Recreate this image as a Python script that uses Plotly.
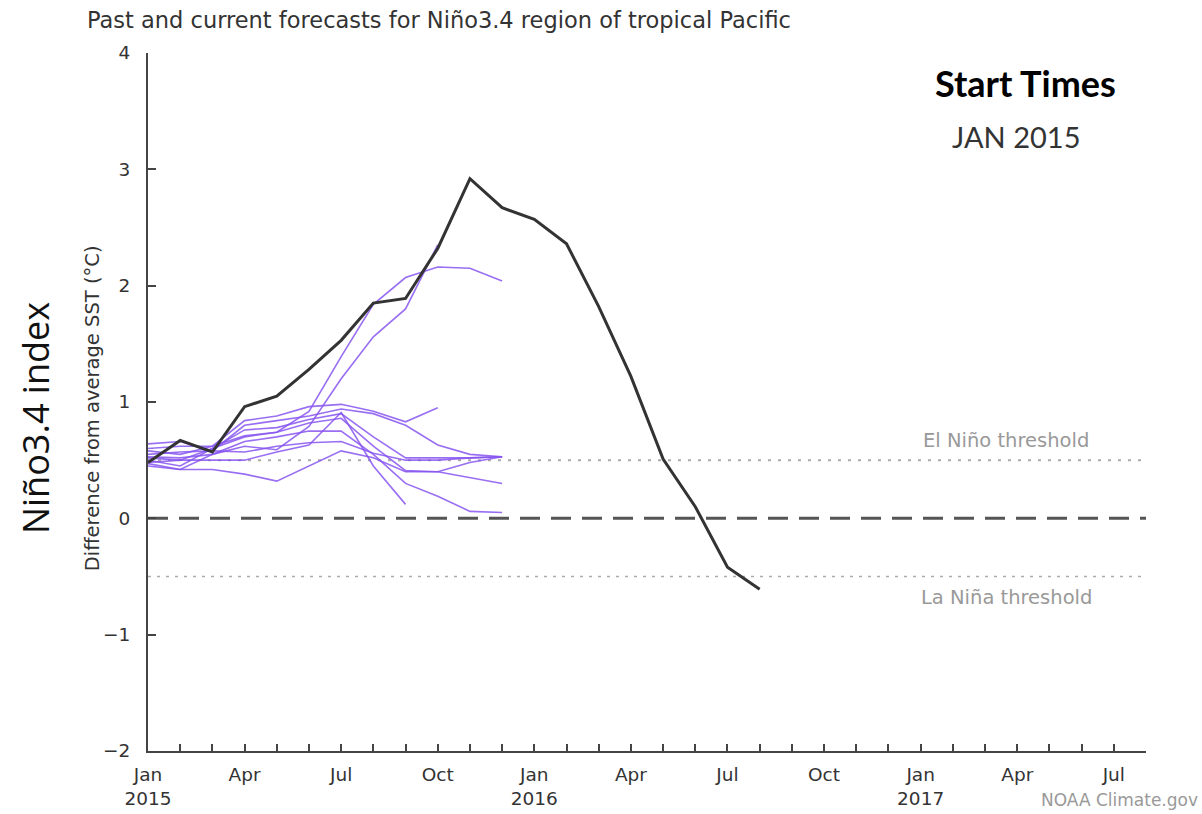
import plotly.graph_objects as go

# Month axis: Jan 2015 .. Aug 2017 (index 0..31)
month_names = ["Jan", "Feb", "Mar", "Apr", "May", "Jun", "Jul", "Aug", "Sep", "Oct", "Nov", "Dec"]
n_months = 32
years = [2015, 2016, 2017]

# Observed monthly Niño3.4 anomaly (°C), Jan 2015 - Aug 2016
observed = [0.48, 0.67, 0.57, 0.96, 1.05, 1.28, 1.53, 1.85, 1.89, 2.32, 2.92, 2.67,
            2.57, 2.36, 1.82, 1.22, 0.51, 0.10, -0.42, -0.61]

# Model forecasts started Jan 2015 (values from Jan 2015 onward)
fc_01 = [0.50, 0.45, 0.60, 0.70, 0.74, 0.92, 1.39, 1.84, 2.07, 2.16, 2.15, 2.04]
fc_02 = [0.47, 0.42, 0.55, 0.62, 0.59, 0.79, 1.20, 1.56, 1.80, 2.35]
fc_03 = [0.60, 0.62, 0.62, 0.84, 0.88, 0.96, 0.98, 0.92, 0.83, 0.95]
fc_04 = [0.55, 0.57, 0.58, 0.80, 0.84, 0.88, 0.94, 0.90, 0.80, 0.63, 0.55, 0.53]
fc_05 = [0.52, 0.50, 0.60, 0.76, 0.78, 0.85, 0.90, 0.70, 0.52, 0.52, 0.52, 0.53]
fc_06 = [0.58, 0.55, 0.62, 0.71, 0.74, 0.82, 0.86, 0.62, 0.41, 0.40, 0.48, 0.53]
fc_07 = [0.45, 0.42, 0.42, 0.38, 0.32, 0.45, 0.58, 0.52, 0.40, 0.40, 0.35, 0.30]
fc_08 = [0.53, 0.52, 0.55, 0.66, 0.70, 0.75, 0.75, 0.55, 0.30, 0.19, 0.06, 0.05]
fc_09 = [0.48, 0.50, 0.50, 0.50, 0.57, 0.63, 0.91, 0.45, 0.12]
fc_10 = [0.64, 0.66, 0.58, 0.57, 0.62, 0.65, 0.66, 0.56, 0.50, 0.50, 0.52, 0.53]
forecasts = [fc_01, fc_02, fc_03, fc_04, fc_05, fc_06, fc_07, fc_08, fc_09, fc_10]

el_nino = 0.5
la_nina = -0.5

# Tick labels: quarter months labelled, year added under January
tick_vals = list(range(n_months))
tick_text = []
for i in tick_vals:
    m = i % 12
    if m == 0:
        tick_text.append(f"Jan<br>{years[i // 12]}")
    elif m in (3, 6, 9):
        tick_text.append(month_names[m])
    else:
        tick_text.append("")

fig = go.Figure()

purple = "rgba(135, 85, 240, 0.85)"
for fc in forecasts:
    fig.add_trace(go.Scatter(x=list(range(len(fc))), y=fc, mode="lines",
                             line=dict(color=purple, width=1.6), hoverinfo="skip",
                             showlegend=False))

fig.add_trace(go.Scatter(x=list(range(len(observed))), y=observed, mode="lines",
                         line=dict(color="#333333", width=3), showlegend=False))

# Reference lines
fig.add_shape(type="line", xref="x", yref="y", x0=0, x1=n_months - 1, y0=0, y1=0,
              line=dict(color="#555555", width=3, dash="20px,11px"), layer="below")
fig.add_shape(type="line", xref="x", yref="y", x0=0, x1=n_months - 1, y0=el_nino, y1=el_nino,
              line=dict(color="#aaaaaa", width=2, dash="3px,7px"), layer="below")
fig.add_shape(type="line", xref="x", yref="y", x0=0, x1=n_months - 1, y0=la_nina, y1=la_nina,
              line=dict(color="#aaaaaa", width=1.5, dash="3px,6px"), layer="below")

sans = "DejaVu Sans"
tick_font = dict(family=sans, size=18.5, color="#333333")

fig.update_xaxes(range=[0, n_months - 1], tickvals=tick_vals, ticktext=tick_text,
                 ticks="inside", ticklen=7, tickwidth=1.5, tickcolor="#444444",
                 showline=True, linecolor="#444444", linewidth=2, automargin=False,
                 showgrid=False, zeroline=False, tickfont=tick_font, ticklabelstandoff=6)
fig.update_yaxes(range=[-2, 4], tickvals=[-2, -1, 0, 1, 2, 3, 4],
                 ticks="inside", ticklen=8, tickwidth=1.5, tickcolor="#444444",
                 showline=True, linecolor="#444444", linewidth=2, automargin=False,
                 showgrid=False, zeroline=False, tickfont=tick_font, ticklabelstandoff=12)

annotations = [
    dict(text="Past and current forecasts for Niño3.4 region of tropical Pacific",
         xref="paper", yref="paper", x=-0.0631, y=1.047, xanchor="left", yanchor="middle",
         showarrow=False, font=dict(family=sans, size=22.5, color="#333333")),
    dict(text="Difference from average SST (°C)", xref="paper", yref="paper",
         x=-0.0561, y=0.491, xanchor="center", yanchor="middle", textangle=-90,
         showarrow=False, font=dict(family=sans, size=19.5, color="#333333")),
    dict(text="Niño3.4 index", xref="paper", yref="paper", x=-0.1132, y=0.477,
         xanchor="center", yanchor="middle", textangle=-90, showarrow=False,
         font=dict(family="Open Sans", size=36, color="#111111")),
    dict(text="<b>Start Times</b>", xref="paper", yref="paper", x=0.879, y=0.957,
         xanchor="center", yanchor="middle", showarrow=False,
         font=dict(family="Lato", size=36, color="#000000")),
    dict(text="JAN 2015", xref="paper", yref="paper", x=0.870, y=0.880,
         xanchor="center", yanchor="middle", showarrow=False,
         font=dict(family="Lato", size=29, color="#333333")),
    dict(text="El Niño threshold", xref="paper", yref="y", x=0.860, y=0.67,
         xanchor="center", yanchor="middle", showarrow=False,
         font=dict(family=sans, size=19.5, color="#999999")),
    dict(text="La Niña threshold", xref="paper", yref="y", x=0.860, y=-0.68,
         xanchor="center", yanchor="middle", showarrow=False,
         font=dict(family=sans, size=19.5, color="#999999")),
    dict(text="NOAA Climate.gov", xref="paper", yref="paper", x=1.054, y=-0.070,
         xanchor="right", yanchor="middle", showarrow=False,
         font=dict(family=sans, size=17, color="#999999")),
]

fig.update_layout(width=1202, height=814, margin=dict(l=148, r=56, t=53, b=63),
                  paper_bgcolor="white", plot_bgcolor="white",
                  annotations=annotations, showlegend=False)

fig.write_html("out.html")
